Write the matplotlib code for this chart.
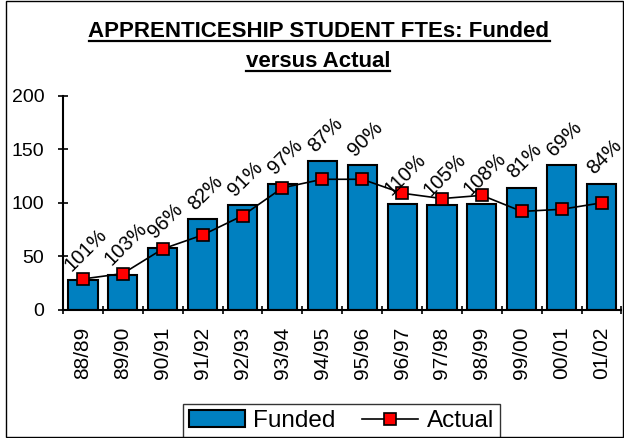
import matplotlib
matplotlib.use('Agg')
import matplotlib.pyplot as plt
from matplotlib.lines import Line2D
from matplotlib.patches import Rectangle
import numpy as np

plt.rcParams['font.family'] = ['Liberation Sans', 'DejaVu Sans']

categories = ['88/89', '89/90', '90/91', '91/92', '92/93', '93/94', '94/95',
              '95/96', '96/97', '97/98', '98/99', '99/00', '00/01', '01/02']
funded = [28, 33, 58, 85, 98, 118, 139, 135, 99, 98, 99, 114, 135, 118]
actual = [29, 34, 57, 70, 88, 114, 122, 122, 109, 104, 107, 92, 94, 100]
pct_labels = ['101%', '103%', '96%', '82%', '91%', '97%', '87%', '90%',
              '110%', '105%', '108%', '81%', '69%', '84%']

W, H = 624, 438
fig = plt.figure(figsize=(W / 100, H / 100), dpi=100)
ax = fig.add_axes([63 / W, 1 - 310 / H, (621.5 - 63) / W, (310 - 95.7) / H])

x = np.arange(len(categories))
bars = ax.bar(x, funded, width=0.73, color='#0080c0', edgecolor='black',
              linewidth=1.5, label='Funded', zorder=2)
line, = ax.plot(x, actual, color='black', linewidth=1.2, marker='s', markersize=8.5,
                markerfacecolor='#ff0000', markeredgecolor='black', markeredgewidth=1.2,
                label='Actual', zorder=3)

# rotated percentage labels above the bars
for xi, fi, lab in zip(x, funded, pct_labels):
    ax.annotate(lab, (xi, fi), xytext=(2, 4), textcoords='offset points',
                rotation=45, ha='center', va='bottom', fontsize=14.5, zorder=4)

ax.set_xlim(-0.5, len(categories) - 0.5)
ax.set_ylim(0, 200)
ax.set_yticks([0, 50, 100, 150, 200])
ax.set_xticks(x)
ax.set_xticklabels(categories, rotation=90)
ax.set_xticks(np.arange(-0.5, len(categories), 1.0), minor=True)
ax.tick_params(axis='x', which='major', length=0, pad=12, labelsize=15)
ax.tick_params(axis='x', which='minor', direction='inout', length=6, width=1.2)
ax.tick_params(axis='y', direction='inout', length=7, width=1.2, pad=10, labelsize=14)

for s in ['top', 'right']:
    ax.spines[s].set_visible(False)
for s in ['left', 'bottom']:
    ax.spines[s].set_linewidth(1.5)

leg = fig.legend([bars, line], ['Funded', 'Actual'],
                 loc='upper center', bbox_to_anchor=(341.5 / W, 1 - 404 / H),
                 ncol=2, fontsize=17.5, frameon=True, fancybox=False,
                 edgecolor='black', handlelength=2.3, handletextpad=0.35,
                 columnspacing=1.1, borderpad=0.25, borderaxespad=0)
leg.get_frame().set_linewidth(1.0)

# title with underline
t1 = fig.text(319 / W, 1 - 37 / H, 'APPRENTICESHIP STUDENT FTEs: Funded',
              ha='center', va='baseline', fontsize=16, fontweight='bold')
t2 = fig.text(318 / W, 1 - 67 / H, 'versus Actual',
              ha='center', va='baseline', fontsize=16, fontweight='bold')
fig.canvas.draw()
r = fig.canvas.get_renderer()
for t, uy in [(t1, 40.5), (t2, 71)]:
    bb = t.get_window_extent(r)
    fig.lines.append(Line2D([bb.x0 / W, bb.x1 / W], [1 - uy / H, 1 - uy / H],
                            transform=fig.transFigure, color='black', linewidth=1.6))

# outer chart frame
fig.patches.append(Rectangle((6 / W, 1 - 436.7 / H), (623 - 6) / W, (436.7 - 1) / H,
                             transform=fig.transFigure, fill=False,
                             edgecolor='black', linewidth=1.0, zorder=10))

fig.savefig('out.png', dpi=100)
